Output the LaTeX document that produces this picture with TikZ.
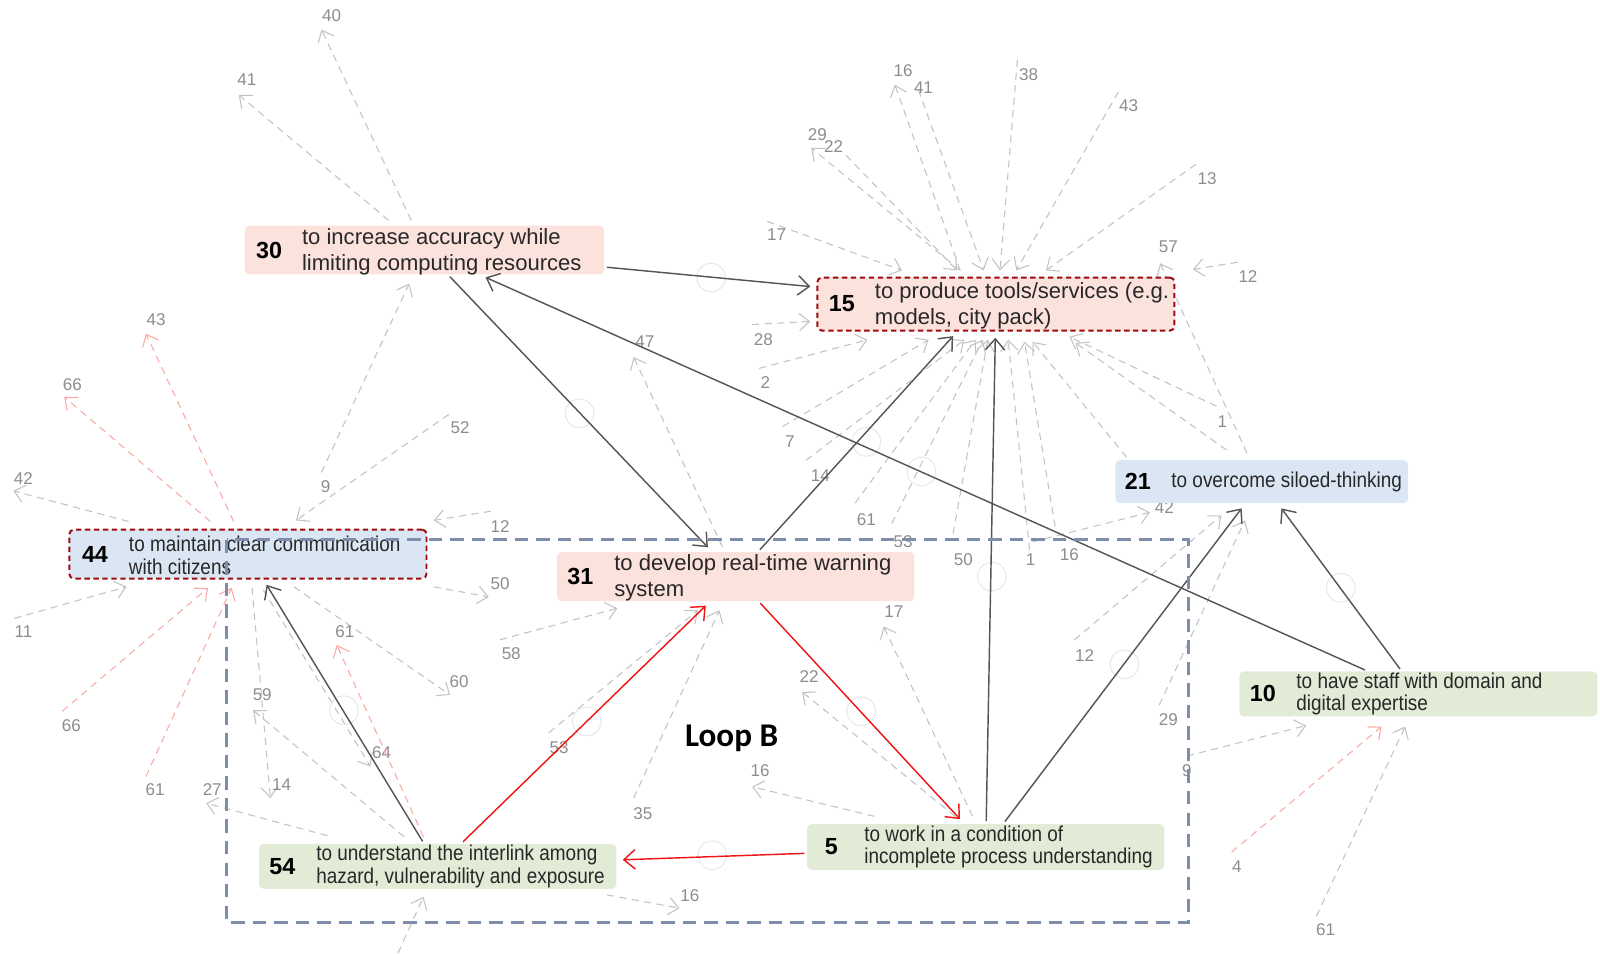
\documentclass[tikz,border=0pt]{standalone}
\usepackage{fontspec}
\setmainfont{Liberation Sans}
\newfontfamily\narrowfont[FakeStretch=0.88]{Liberation Sans}
\newfontfamily\loopfont{Carlito}
\usetikzlibrary{arrows.meta,positioning}
\definecolor{goalpink}{RGB}{252,226,221}
\definecolor{goalblue}{RGB}{219,230,245}
\definecolor{goalgreen}{RGB}{226,235,214}
\definecolor{rimred}{RGB}{160,10,10}
\definecolor{textdark}{RGB}{40,40,40}
\definecolor{stubgray}{RGB}{195,195,195}
\definecolor{stubpink}{RGB}{250,170,165}
\definecolor{lblgray}{RGB}{140,140,140}
\definecolor{linkgray}{RGB}{85,85,85}
\definecolor{linkred}{RGB}{240,20,20}
\definecolor{loopblue}{RGB}{125,141,170}

\begin{document}
\begin{tikzpicture}[x=0.02cm, y=-0.02cm,
  goal/.style={rounded corners=2.5pt, inner sep=0pt},
  rim/.style={draw=rimred, line width=1.1pt, dash pattern=on 3pt off 2pt},
  num/.style={font=\fontsize{13}{15}\selectfont\bfseries, inner sep=0pt},
  txt/.style={anchor=west, align=left, inner sep=0pt, text=textdark, font=\fontsize{12.3}{14.3}\selectfont},
  ntxt/.style={txt, font=\narrowfont\fontsize{12}{12.6}\selectfont},
  stub/.style={draw=stubgray, line width=0.6pt, dash pattern=on 4pt off 3pt, -{Straight Barb[length=2mm,width=3.4mm]}},
  pinkstub/.style={stub, draw=stubpink},
  lbl/.style={text=lblgray, font=\fontsize{9.5}{10}\selectfont, inner sep=0pt},
  link/.style={draw=linkgray, line width=0.8pt, shorten <=0.5mm, shorten >=1.2mm, -{Straight Barb[length=2.2mm,width=3.8mm]}},
  redlink/.style={link, draw=linkred},
  ring/.style={draw=black!9, line width=0.6pt},
  loopline/.style={draw=loopblue, line width=1.8pt, dash pattern=on 7.5pt off 4.5pt}]
  \useasboundingbox (0,0) rectangle (1568,934);

  % dangling links to variables outside the loop
  \foreach \xa/\ya/\xb/\yb/\xl/\yl/\t [count=\i] in {
    403/216/315/29/325/15/40, 381/216/234/93/242/78/41, 315/463/401/278/319/477/9,
    126/511/13/481/23/469/42, 440/406/290/510/451/419/52, 481/501/425/510/490/516/12,
    425/575/479/585/490/572/50, 14/606/124/575/23/619/11, 247/576/265/782/276/769/14,
    288/575/441/681/450/668/60, 258/578/363/751/374/738/64, 321/819/202/787/208/774/27,
    396/820/248/696/257/681/59, 595/877/666/890/676/878/16, 390/934/415/879/390/934/{},
    490/627/605/596/501/641/58, 538/718/684/598/548/733/53, 621/782/705/598/630/797/35,
    708/536/621/350/632/335/47, 953/800/866/614/876/599/17, 936/800/786/678/793/663/22,
    857/800/737/771/745/755/16, 941/265/877/83/885/69/16, 900/88/964/265/905/86/41,
    997/59/980/265/1008/73/38, 1096/90/996/265/1106/104/43, 1172/161/1025/265/1183/175/13,
    941/265/795/145/801/132/29, 829/152/938/265/817/144/22, 752/217/884/265/761/230/17,
    1213/257/1169/264/1223/271/12, 1222/444/1137/258/1145/242/57, 737/318/794/315/748/333/28,
    744/361/850/333/750/375/2, 767/418/910/333/774/433/7, 790/451/945/333/804/466/14,
    838/493/956/333/849/509/61, 874/513/963/333/885/531/53, 934/523/968/333/944/548/50,
    1009/539/988/333/1010/548/1, 1034/516/1004/335/1048/544/16, 1104/448/1012/335/1104/448/{},
    1192/398/1048/330/1198/413/1, 1202/441/1054/336/1202/441/{}, 1012/531/1127/502/1141/497/42,
    1053/627/1197/505/1063/642/12, 1136/691/1220/510/1145/705/29, 1163/741/1280/711/1163/755/9,
    1290/898/1377/712/1299/911/61} {
    \draw[stub] (\xa,\ya) -- (\xb,\yb);
    \node[lbl] (out\i) at (\xl,\yl) {\t};
  }
  \foreach \xa/\ya/\xb/\yb/\xl/\yl/\t [count=\i] in {
    1207/835/1354/712/1212/849/4, 229/511/143/327/153/313/43, 206/511/63/389/71/377/66,
    61/697/204/576/70/711/66, 143/761/227/576/152/774/61, 415/820/330/632/338/619/61} {
    \draw[pinkstub] (\xa,\ya) -- (\xb,\yb);
    \node[lbl] (pout\i) at (\xl,\yl) {\t};
  }

  % link markers
  \foreach \x/\y in {697/272, 568/405, 849/433, 903/462, 972/565, 1102/651,
    1314/576, 844/697, 575/707, 337/696, 698/838}
    \draw[ring] (\x,\y) circle[radius=0.28cm];

  % goals
  \node[goal, fill=goalpink, minimum width=7.04cm, minimum height=0.96cm] (g30) at (416,245) {};
  \node[num] (n30) at ([xshift=0.48cm]g30.west) {30};
  \node[txt] (t30) at ([xshift=1.12cm,yshift=-0.03cm]g30.west) {to increase accuracy while\\limiting computing resources};

  \node[goal, rim, fill=goalpink, minimum width=7cm, minimum height=1.04cm] (g15) at (976,298) {};
  \node[num] (n15) at ([xshift=0.5cm]g15.west) {15};
  \node[txt] (t15) at ([xshift=1.14cm,yshift=-0.03cm]g15.west) {to produce tools/services (e.g.\\models, city pack)};

  \node[goal, rim, fill=goalblue, minimum width=7cm, minimum height=0.96cm] (g44) at (243,543) {};
  \node[num] (n44) at ([xshift=0.52cm]g44.west) {44};
  \node[ntxt] (t44) at ([xshift=1.18cm,yshift=-0.02cm]g44.west) {to maintain clear communication\\with citizens};

  \node[goal, fill=goalpink, minimum width=7cm, minimum height=0.96cm] (g31) at (721,565) {};
  \node[num] (n31) at ([xshift=0.46cm]g31.west) {31};
  \node[txt] (t31) at ([xshift=1.12cm,yshift=-0.03cm]g31.west) {to develop real-time warning\\system};

  \node[goal, fill=goalblue, minimum width=5.74cm, minimum height=0.84cm] (g21) at (1236.5,472) {};
  \node[num] (n21) at ([xshift=0.45cm]g21.west) {21};
  \node[ntxt] (t21) at ([xshift=1.1cm]g21.west) {to overcome siloed-thinking};

  \node[goal, fill=goalgreen, minimum width=7.02cm, minimum height=0.88cm] (g10) at (1390,680) {};
  \node[num] (n10) at ([xshift=0.47cm]g10.west) {10};
  \node[ntxt] (t10) at ([xshift=1.12cm]g10.west) {to have staff with domain and\\digital expertise};

  \node[goal, fill=goalgreen, minimum width=7cm, minimum height=0.9cm] (g5) at (966,830) {};
  \node[num] (n5) at ([xshift=0.48cm]g5.west) {5};
  \node[ntxt] (t5) at ([xshift=1.12cm]g5.west) {to work in a condition of\\incomplete process understanding};

  \node[goal, fill=goalgreen, minimum width=7cm, minimum height=0.88cm] (g54) at (429,849) {};
  \node[num] (n54) at ([xshift=0.46cm]g54.west) {54};
  \node[ntxt] (t54) at ([xshift=1.12cm]g54.west) {to understand the interlink among\\hazard, vulnerability and exposure};

  % links between goals
  \draw[link] (g30) -- (g15);
  \draw[link] (g30) -- (g31);
  \draw[link] (g10) -- (g30);
  \draw[link] (g31) -- ([xshift=-0.76cm]g15.south);
  \draw[link] (g5) -- (g15);
  \draw[link] (g5) -- (g21);
  \draw[link] (g10) -- (g21);
  \draw[link] (g54) -- (g44);
  \draw[redlink] (g54) -- (g31);
  \draw[redlink] (g31) -- (g5);
  \draw[redlink] (g5) -- (g54);

  % loop B
  \draw[loopline] (222,529) rectangle (1165,904);
  \node[font=\loopfont\bfseries\fontsize{18.5}{20}\selectfont, inner sep=0pt] (loopb) at (717,724) {Loop B};
\end{tikzpicture}
\end{document}
